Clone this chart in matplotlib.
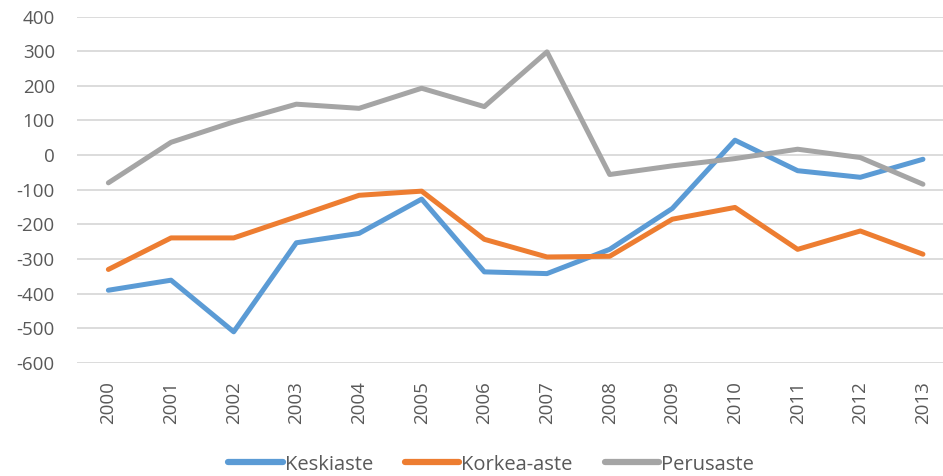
import matplotlib.pyplot as plt
import numpy as np

# Data
years = [str(y) for y in range(2000, 2014)]
keskiaste = [-390, -361, -510, -253, -226, -127, -337, -342, -272, -154, 43, -45, -64, -12]
korkea_aste = [-330, -239, -239, -178, -116, -104, -243, -294, -292, -185, -151, -272, -219, -286]
perusaste = [-80, 37, 96, 147, 135, 193, 140, 298, -56, -31, -10, 17, -7, -84]

plt.rcParams['font.family'] = ['Open Sans', 'DejaVu Sans']
plt.rcParams['axes.unicode_minus'] = False

fig = plt.figure(figsize=(9.43, 4.76), dpi=100)
ax = fig.add_axes([0.0817, 0.2374, 0.9183, 0.7279])

x = np.arange(len(years))
ax.plot(x, keskiaste, color='#5B9BD5', lw=3.6, label='Keskiaste', solid_capstyle='round')
ax.plot(x, korkea_aste, color='#ED7D31', lw=3.6, label='Korkea-aste', solid_capstyle='round')
ax.plot(x, perusaste, color='#A5A5A5', lw=3.6, label='Perusaste', solid_capstyle='round')

ax.set_ylim(-600, 400)
ax.set_yticks(np.arange(-600, 401, 100))
ax.set_xlim(-0.5, 13.32)
ax.set_xticks(x)
ax.set_xticklabels(years, rotation=90)
ax.grid(axis='y', color='#D9D9D9', lw=1.3)
ax.set_axisbelow(True)
for s in ax.spines.values():
    s.set_visible(False)
ax.tick_params(length=0, labelsize=13.5, colors='#595959')
ax.tick_params(axis='y', pad=16)
ax.tick_params(axis='x', pad=13)

leg = fig.legend(loc='lower center', ncol=3, frameon=False, fontsize=14.5,
                 bbox_to_anchor=(0.521, -0.035), handlelength=2.7, handletextpad=0.1,
                 columnspacing=1.6, labelcolor='#595959')
for h in leg.legend_handles:
    h.set_linewidth(4.5)

fig.savefig('out.png', dpi=100)
